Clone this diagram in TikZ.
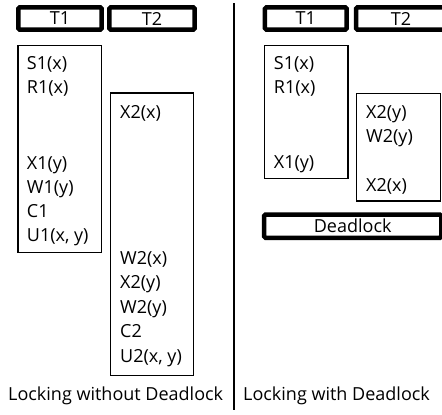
\documentclass[tikz,border=0pt]{standalone}
\usepackage{fontspec}
\setmainfont{Open Sans}
\tikzset{hdr/.style={draw,line width=4.5pt,rounded corners=1.5pt,inner sep=0pt},
  colbox/.style={draw,line width=1.3pt,inner sep=0pt},
  op/.style={anchor=base west,inner sep=0pt}}
\begin{document}
\begin{tikzpicture}[x=1pt,y=-1pt,font=\fontsize{18}{22}\selectfont]
\useasboundingbox (0,0) rectangle (442,415);
% left half: no deadlock
\node[hdr,minimum width=83.4pt,minimum height=22.4pt] (hA1) at (60,18.5){};\node at (hA1){T1};
\node[hdr,minimum width=85.4pt,minimum height=22.4pt] (hA2) at (152,18.5){};\node at (hA2){T2};
\node[colbox,minimum width=83.4pt,minimum height=207pt] (cA1) at (59.7,149){};
\node[colbox,minimum width=82.8pt,minimum height=282.4pt] (cA2) at (152,234.2){};
\foreach \t/\y in {S1(x)/69,R1(x)/93,X1(y)/169,W1(y)/193,C1/217,{U1(x, y)}/241}
  \node[op] at (26.7,\y){\t};
\foreach \t/\y in {X2(x)/118,W2(x)/264,X2(y)/288.5,W2(y)/313,C2/337.5,{U2(x, y)}/362}
  \node[op] at (120,\y){\t};
% divider
\coordinate (dTop) at (234,3);\coordinate (dBot) at (234,410);
\draw[line width=1.3pt] (dTop)--(dBot);
% right half: deadlock
\node[hdr,minimum width=81.7pt,minimum height=22.4pt] (hB1) at (305.8,18.5){};\node at (hB1){T1};
\node[hdr,minimum width=90pt,minimum height=22.4pt] (hB2) at (401,18.5){};\node at (hB2){T2};
\node[colbox,minimum width=83.7pt,minimum height=132.8pt] (cB1) at (306.2,112){};
\node[colbox,minimum width=83.8pt,minimum height=107.7pt] (cB2) at (398.5,147.2){};
\foreach \t/\y in {S1(x)/69,R1(x)/93,X1(y)/168.5}
  \node[op] at (273.7,\y){\t};
\foreach \t/\y in {X2(y)/118,W2(y)/142,X2(x)/191}
  \node[op] at (366,\y){\t};
\node[hdr,minimum width=177.4pt,minimum height=23.1pt] (dl) at (352.7,226.2){};\node at (dl){Deadlock};
% captions
\node[op] (capA) at (8,400.5){Locking without Deadlock};
\node[op] (capB) at (243,400.5){Locking with Deadlock};
\end{tikzpicture}
\end{document}
